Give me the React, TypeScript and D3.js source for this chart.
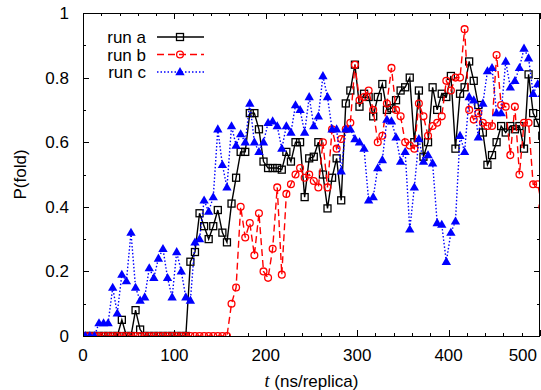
import React, { useEffect, useRef } from "react";
import * as d3 from "d3";

// P(fold) per 5 ns bin (bin centres at 2.5, 7.5, ... ns)
const runA = [
  0, 0, 0, 0, 0, 0, 0, 0, 0.05, 0,
  0, 0.08, 0.02, 0, 0, 0, 0, 0, 0, 0,
  0, 0, 0, 0.23, 0.26, 0.38, 0.34, 0.30, 0.34, 0.39,
  0.32, 0.29, 0.41, 0.49, 0.57, 0.57, 0.69, 0.69, 0.64, 0.54,
  0.52, 0.52, 0.52, 0.515, 0.57, 0.54, 0.60, 0.60, 0.43, 0.55,
  0.555, 0.60, 0.50, 0.395, 0.49, 0.55, 0.42, 0.72, 0.76, 0.84,
  0.71, 0.75, 0.74, 0.68, 0.74, 0.78, 0.70, 0.705, 0.73, 0.76,
  0.77, 0.80, 0.60, 0.76, 0.555, 0.60, 0.77, 0.70, 0.75, 0.74,
  0.805, 0.58, 0.75, 0.77, 0.85, 0.79, 0.715, 0.63, 0.53, 0.56,
  0.60, 0.65, 0.63, 0.65, 0.64, 0.65, 0.58, 0.81, 0.69, 0.66,
  0.62,
];
const runB = [
  0, 0, 0, 0, 0, 0, 0, 0, 0, 0,
  0, 0, 0, 0, 0, 0, 0, 0, 0, 0,
  0, 0, 0, 0, 0, 0, 0, 0, 0, 0,
  0, 0, 0.10, 0.15, 0.40, 0.305, 0.35, 0.25, 0.38, 0.20,
  0.18, 0.27, 0.46, 0.19, 0.44, 0.47, 0.50, 0.52, 0.49, 0.50,
  0.48, 0.46, 0.60, 0.46, 0.64, 0.58, 0.61, 0.64, 0.66, 0.84,
  0.73, 0.74, 0.76, 0.70, 0.60, 0.62, 0.72, 0.83, 0.70, 0.68,
  0.60, 0.59, 0.58, 0.72, 0.68, 0.62, 0.65, 0.66, 0.68, 0.79,
  0.76, 0.80, 0.80, 0.95, 0.70, 0.67, 0.69, 0.66, 0.65, 0.65,
  0.87, 0.715, 0.71, 0.56, 0.71, 0.50, 0.66, 0.66, 0.47, 0.47,
  0.40,
];
const runC = [
  0, 0, 0, 0.04, 0.04, 0.04, 0.15, 0.07, 0.19, 0.17,
  0.32, 0.15, 0.11, 0.12, 0.21, 0.18, 0.24, 0.27, 0.18, 0.12,
  0.26, 0.20, 0.12, 0.11, 0.29, 0.30, 0.42, 0.385, 0.43, 0.64,
  0.53, 0.46, 0.65, 0.59, 0.625, 0.60, 0.72, 0.60, 0.57, 0.60,
  0.66, 0.665, 0.65, 0.58, 0.65, 0.63, 0.715, 0.70, 0.63, 0.74,
  0.65, 0.68, 0.805, 0.74, 0.64, 0.64, 0.51, 0.64, 0.64, 0.61,
  0.60, 0.58, 0.42, 0.43, 0.52, 0.545, 0.67, 0.665, 0.615, 0.54,
  0.57, 0.33, 0.46, 0.61, 0.54, 0.56, 0.535, 0.35, 0.345, 0.23,
  0.32, 0.355, 0.62, 0.57, 0.74, 0.73, 0.615, 0.72, 0.82, 0.83,
  0.69, 0.69, 0.85, 0.77, 0.79, 0.83, 0.89, 0.86, 0.75, 0.78,
  0.75,
];
const binStart = 2.5;
const binWidth = 5;

const xTicks = [0, 100, 200, 300, 400, 500];
const yTicks = [0, 0.2, 0.4, 0.6, 0.8, 1];
const seriesNames = ["run a", "run b", "run c"];

export default function App() {
  const svgRef = useRef(null);

  useEffect(() => {
    const W = 541;
    const H = 390;
    const margin = { top: 13, right: 1, bottom: 54, left: 83 };
    const width = W - margin.left - margin.right;
    const height = H - margin.top - margin.bottom;
    const font = "'Liberation Sans', Arial, Helvetica, sans-serif";

    const svg = d3.select(svgRef.current)
      .attr("width", W)
      .attr("height", H)
      .style("font-family", font);

    const g = svg.append("g")
      .attr("transform", `translate(${margin.left},${margin.top})`);

    const x = d3.scaleLinear().domain([0, 500]).range([0, width]);
    const y = d3.scaleLinear().domain([0, 1]).range([height, 0]);

    // ticks, gnuplot style: inward and mirrored
    const majorLen = 6;
    const minorLen = 3;
    const ticksG = g.append("g").attr("stroke", "#000").attr("stroke-width", 1);
    d3.range(0, 501, 20).forEach((v) => {
      const len = xTicks.includes(v) ? majorLen : minorLen;
      const px = Math.round(x(v)) + 0.5;
      ticksG.append("line").attr("x1", px).attr("x2", px).attr("y1", height).attr("y2", height - len);
      ticksG.append("line").attr("x1", px).attr("x2", px).attr("y1", 0).attr("y2", len);
    });
    d3.range(0, 11).forEach((k) => {
      const v = k / 10;
      const len = k % 2 === 0 ? majorLen : minorLen;
      const py = Math.round(y(v)) + 0.5;
      ticksG.append("line").attr("x1", 0).attr("x2", len).attr("y1", py).attr("y2", py);
      ticksG.append("line").attr("x1", width).attr("x2", width - len).attr("y1", py).attr("y2", py);
    });

    // tick labels (the last one is pulled inside the picture, as in the original)
    g.selectAll(".xlab").data(xTicks).enter().append("text")
      .attr("x", (d) => (d === 500 ? x(d) - 3 : x(d)))
      .attr("y", height + 25)
      .attr("text-anchor", (d) => (d === 500 ? "end" : "middle"))
      .style("font-size", "17px")
      .text((d) => d);
    g.selectAll(".ylab").data(yTicks).enter().append("text")
      .attr("x", -14)
      .attr("y", (d) => y(d) + 6)
      .attr("text-anchor", "end")
      .style("font-size", "17px")
      .text((d) => d);

    // axis titles
    const xt = svg.append("text")
      .attr("x", margin.left + width / 2)
      .attr("y", 387)
      .attr("text-anchor", "middle")
      .style("font-size", "17px");
    xt.append("tspan")
      .style("font-style", "italic")
      .style("font-family", "'Liberation Serif', serif")
      .style("font-size", "18px")
      .text("t");
    xt.append("tspan").text(" (ns/replica)");

    svg.append("text")
      .attr("transform", `translate(26,${margin.top + height / 2}) rotate(-90)`)
      .attr("text-anchor", "middle")
      .style("font-size", "17px")
      .text("P(fold)");

    // clip for the data
    svg.append("clipPath").attr("id", "plotclip")
      .append("rect").attr("x", 0).attr("y", 0).attr("width", width).attr("height", height);
    const plot = g.append("g").attr("clip-path", "url(#plotclip)");

    const styles = [
      { data: runA, color: "#000000", dash: null, marker: "square" },
      { data: runB, color: "#ff0000", dash: "7,4", marker: "circle" },
      { data: runC, color: "#0000ff", dash: "1.5,2", marker: "triangle" },
    ];

    const drawMarker = (sel, kind, color, cx, cy) => {
      if (kind === "square") {
        sel.append("rect")
          .attr("x", cx - 3.5).attr("y", cy - 3.5)
          .attr("width", 7).attr("height", 7)
          .attr("fill", "none").attr("stroke", color).attr("stroke-width", 1.3);
      } else if (kind === "circle") {
        sel.append("circle")
          .attr("cx", cx).attr("cy", cy).attr("r", 3.4)
          .attr("fill", "none").attr("stroke", color).attr("stroke-width", 1.3);
      } else {
        sel.append("path")
          .attr("d", d3.symbol().type(d3.symbolTriangle).size(38)())
          .attr("transform", `translate(${cx},${cy + 0.5})`)
          .attr("fill", color);
      }
    };

    styles.forEach((s) => {
      const pts = s.data.map((v, i) => [binStart + i * binWidth, v]);
      const line = d3.line()
        .x((d) => x(d[0]))
        .y((d) => y(d[1]));
      const path = plot.append("path")
        .datum(pts)
        .attr("d", line)
        .attr("fill", "none")
        .attr("stroke", s.color)
        .attr("stroke-width", 1.4);
      if (s.dash) path.attr("stroke-dasharray", s.dash);
      const mg = plot.append("g");
      pts.forEach((d) => drawMarker(mg, s.marker, s.color, x(d[0]), y(d[1])));
    });

    // legend
    const leg = svg.append("g");
    styles.forEach((s, i) => {
      const cy = 37 + i * 17.5;
      leg.append("text")
        .attr("x", 146)
        .attr("y", cy + 6)
        .attr("text-anchor", "end")
        .style("font-size", "17px")
        .text(seriesNames[i]);
      const l = leg.append("line")
        .attr("x1", 157).attr("x2", 204)
        .attr("y1", cy).attr("y2", cy)
        .attr("stroke", s.color).attr("stroke-width", 1.4);
      if (s.dash) l.attr("stroke-dasharray", s.dash);
      drawMarker(leg, s.marker, s.color, 180, cy);
    });

    // frame
    g.append("rect")
      .attr("x", 0.5).attr("y", 0.5)
      .attr("width", width - 1).attr("height", height)
      .attr("fill", "none").attr("stroke", "#000").attr("stroke-width", 1);

    return () => {
      d3.select(svgRef.current).selectAll("*").remove();
    };
  }, []);

  return (
    <div style={{ position: "absolute", left: 0, top: 0 }}>
      <svg ref={svgRef}></svg>
    </div>
  );
}
